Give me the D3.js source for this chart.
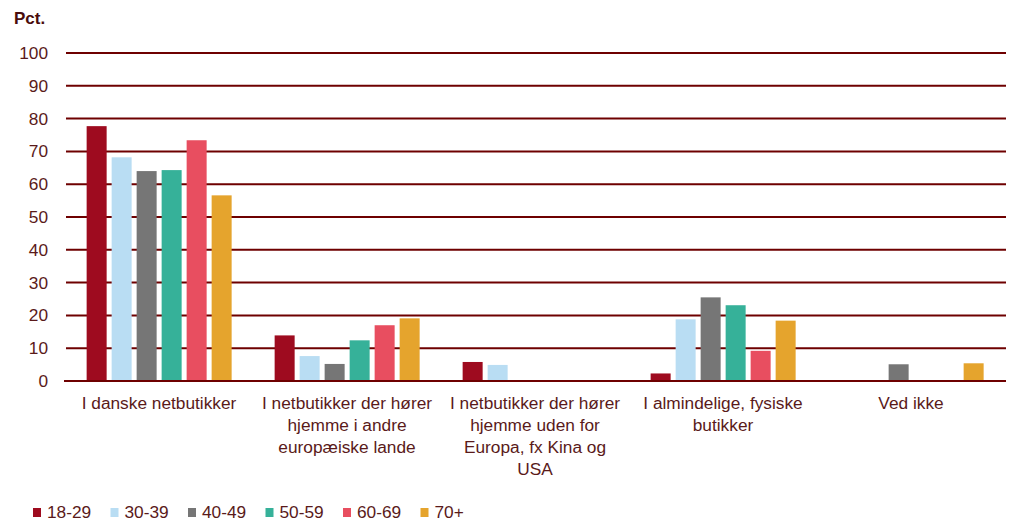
<!DOCTYPE html>
<html>
<head>
<meta charset="utf-8">
<script src="https://cdn.jsdelivr.net/npm/d3@7"></script>
<style>
  body { margin: 0; background: #fff; }
  text { font-family: "Liberation Sans", Arial, sans-serif; }
</style>
</head>
<body>
<script>
// Data
const categories = [
    "I danske netbutikker",
    "I netbutikker der hører\nhjemme i andre\neuropæiske lande",
    "I netbutikker der hører\nhjemme uden for\nEuropa, fx Kina og\nUSA",
    "I almindelige, fysiske\nbutikker",
    "Ved ikke"
];
const ageGroups = ["18-29", "30-39", "40-49", "50-59", "60-69", "70+"];
const v1829 = [77.7, 13.9, 5.8, 2.3, 0];
const v3039 = [68.2, 7.6, 4.9, 18.8, 0];
const v4049 = [64.0, 5.2, 0, 25.5, 5.1];
const v5059 = [64.3, 12.4, 0, 23.1, 0];
const v6069 = [73.4, 17.0, 0, 9.2, 0];
const v70 = [56.6, 19.1, 0, 18.4, 5.4];
const yTicks = [0, 10, 20, 30, 40, 50, 60, 70, 80, 90, 100];

const seriesValues = [v1829, v3039, v4049, v5059, v6069, v70];
const colors = ["#9e0b1f", "#b9ddf3", "#767676", "#36b199", "#e84e60", "#e5a42d"];

const width = 1012, height = 523;
const margin = {left: 66, right: 6, top: 53, bottom: 142};
const textColor = "#5a1a1a";
const gridColor = "#6e0000";
const fontSize = 17.3;

let svg = d3.select("body").append("svg")
    .attr("width", width)
    .attr("height", height);

// Scales
const x0 = d3.scaleBand()
    .domain(categories)
    .range([margin.left, width - margin.right]);
const x1 = d3.scaleBand()
    .domain(ageGroups)
    .range([0, x0.bandwidth()])
    .paddingInner(0.2)
    .paddingOuter(0.86)
    .align(0.48);
const y = d3.scaleLinear()
    .domain([0, 100])
    .range([height - margin.bottom, margin.top]);

// Gridlines + y labels
svg.append("g")
    .selectAll("line")
    .data(yTicks)
    .enter()
    .append("line")
    .attr("x1", d => d === 0 ? margin.left - 2 : margin.left)
    .attr("x2", width - margin.right)
    .attr("y1", d => y(d))
    .attr("y2", d => y(d))
    .attr("stroke", gridColor)
    .attr("stroke-width", 2);

svg.append("g")
    .selectAll("text")
    .data(yTicks)
    .enter()
    .append("text")
    .attr("x", 48)
    .attr("y", d => y(d))
    .attr("dy", "0.35em")
    .attr("text-anchor", "end")
    .attr("font-size", fontSize)
    .attr("fill", textColor)
    .text(d => d);

svg.append("text")
    .attr("x", 14)
    .attr("y", 24)
    .attr("font-size", 17)
    .attr("font-weight", "bold")
    .attr("fill", "#4a0c0c")
    .text("Pct.");

// Bars
let groups = svg.append("g")
    .selectAll("g")
    .data(categories)
    .enter()
    .append("g")
    .attr("transform", d => "translate(" + x0(d) + ",0)");

groups.selectAll("rect")
    .data((d, ci) => ageGroups.map((a, si) => ({age: a, value: seriesValues[si][ci], color: colors[si]})))
    .enter()
    .filter(d => d.value > 0)
    .append("rect")
    .attr("x", d => x1(d.age))
    .attr("width", x1.bandwidth())
    .attr("y", d => y(d.value))
    .attr("height", d => y(0) - y(d.value) - 1)
    .attr("fill", d => d.color);

// Category labels
let catLabels = svg.append("g")
    .selectAll("text")
    .data(categories)
    .enter()
    .append("text")
    .attr("text-anchor", "middle")
    .attr("font-size", fontSize)
    .attr("fill", textColor)
    .attr("transform", d => "translate(" + (x0(d) + x0.bandwidth() / 2 - 1) + ",409)");

catLabels.selectAll("tspan")
    .data(d => d.split("\n"))
    .enter()
    .append("tspan")
    .attr("x", 0)
    .attr("y", (d, i) => i * 22)
    .text(d => d);

// Legend
let legend = svg.append("g")
    .selectAll("g")
    .data(ageGroups)
    .enter()
    .append("g")
    .attr("transform", (d, i) => "translate(" + (33 + i * 77.5) + ",508)");

legend.append("rect")
    .attr("width", 8)
    .attr("height", 9)
    .attr("fill", (d, i) => colors[i]);

legend.append("text")
    .attr("x", 14)
    .attr("y", 10)
    .attr("font-size", fontSize)
    .attr("fill", textColor)
    .text(d => d);
</script>
</body>
</html>
